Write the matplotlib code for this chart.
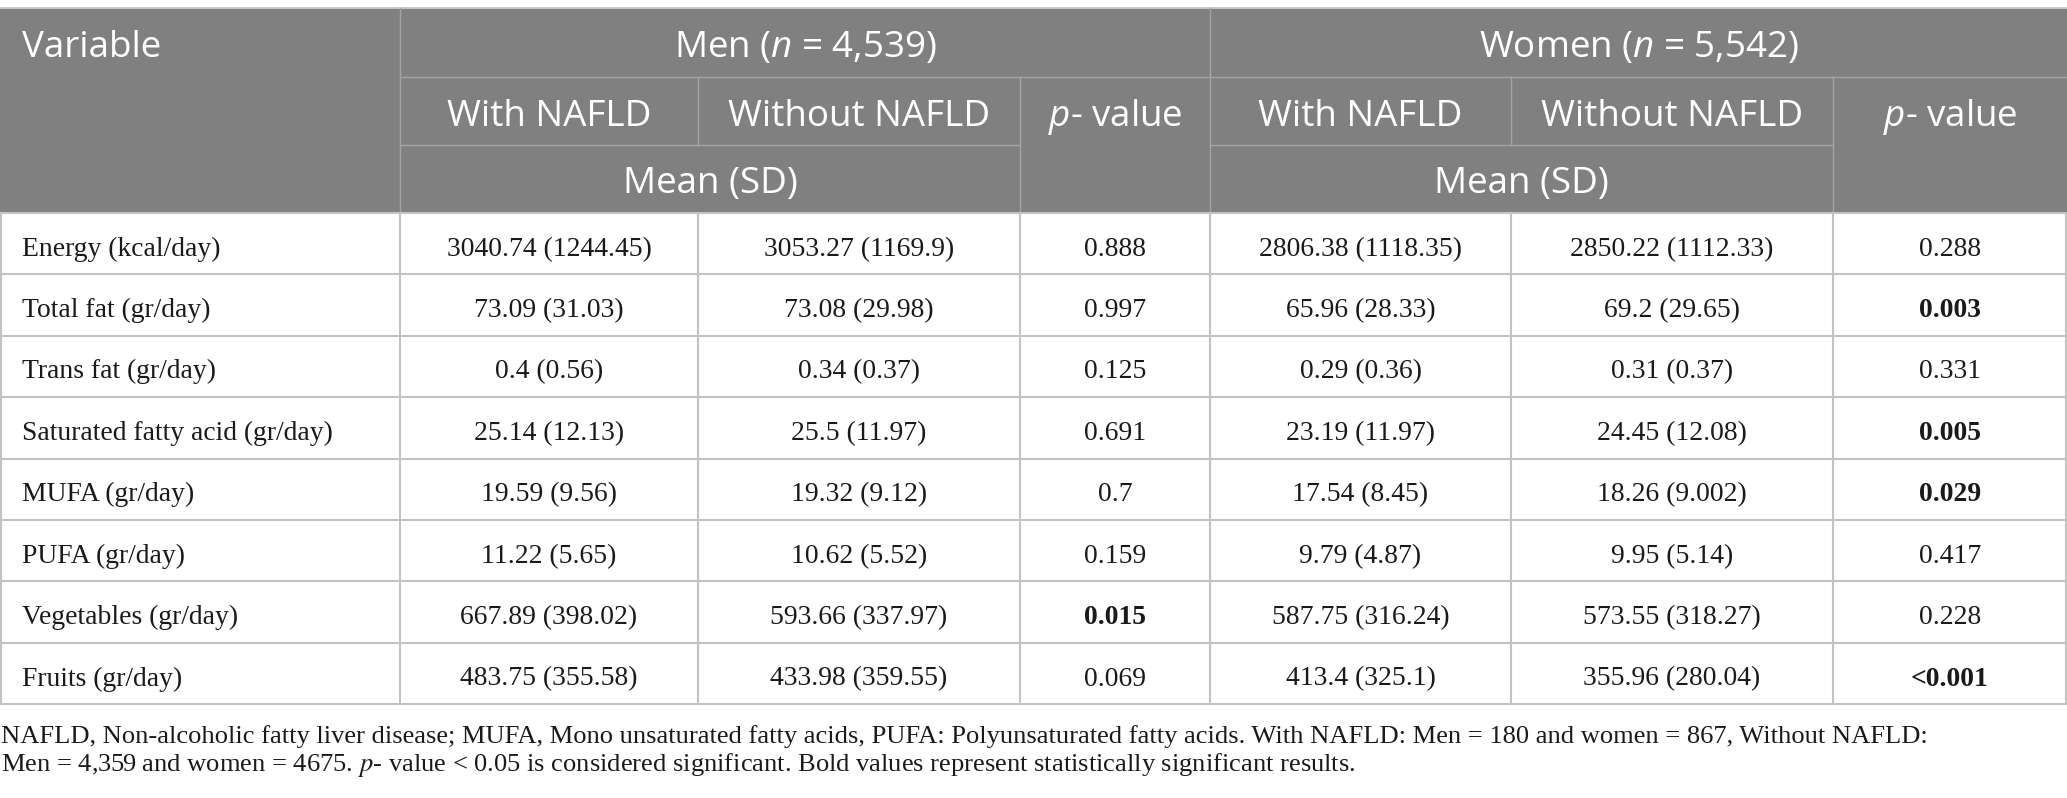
import matplotlib
matplotlib.use("Agg")
import matplotlib.pyplot as plt
from matplotlib.patches import Rectangle

# table content
variables = ["Energy (kcal/day)", "Total fat (gr/day)", "Trans fat (gr/day)",
             "Saturated fatty acid (gr/day)", "MUFA (gr/day)", "PUFA (gr/day)",
             "Vegetables (gr/day)", "Fruits (gr/day)"]
men_with_mean = [3040.74, 73.09, 0.4, 25.14, 19.59, 11.22, 667.89, 483.75]
men_with_sd = [1244.45, 31.03, 0.56, 12.13, 9.56, 5.65, 398.02, 355.58]
men_without_mean = [3053.27, 73.08, 0.34, 25.5, 19.32, 10.62, 593.66, 433.98]
men_without_sd = [1169.9, 29.98, 0.37, 11.97, 9.12, 5.52, 337.97, 359.55]
men_p = ["0.888", "0.997", "0.125", "0.691", "0.7", "0.159", "0.015", "0.069"]
women_with_mean = [2806.38, 65.96, 0.29, 23.19, 17.54, 9.79, 587.75, 413.4]
women_with_sd = [1118.35, 28.33, 0.36, 11.97, 8.45, 4.87, 316.24, 325.1]
women_without_mean = [2850.22, 69.2, 0.31, 24.45, 18.26, 9.95, 573.55, 355.96]
women_without_sd = [1112.33, 29.65, 0.37, 12.08, 9.002, 5.14, 318.27, 280.04]
women_p = ["0.288", "0.003", "0.331", "0.005", "0.029", "0.417", "0.228", "<0.001"]

footnote = ["NAFLD, Non-alcoholic fatty liver disease; MUFA, Mono unsaturated fatty acids, "
            "PUFA: Polyunsaturated fatty acids. With NAFLD: Men = 180 and women = 867, Without NAFLD:",
            "Men = 4,359 and women = 4675. $p$- value < 0.05 is considered significant. "
            "Bold values represent statistically significant results."]

W, H = 2067, 798
plt.rcParams['mathtext.fontset'] = 'custom'
plt.rcParams['mathtext.rm'] = 'Open Sans'
plt.rcParams['mathtext.it'] = 'Open Sans:italic'

fig = plt.figure(figsize=(W / 100, H / 100), dpi=100)
ax = fig.add_axes([0, 0, 1, 1])
ax.set_xlim(0, W)
ax.set_ylim(H, 0)
ax.axis('off')
renderer = fig.canvas.get_renderer()


def fit_size(s, target, **kw):
    # font size that makes string s about target pixels wide
    t = ax.text(0, 0, s, fontsize=10, **kw)
    w = t.get_window_extent(renderer).width
    t.remove()
    return 10 * target / w


# layout (pixels)
xs = [0, 400, 698, 1020, 1210, 1511, 1833, W]
top, h1, h2, hb = 8, 77, 145, 213
rh = 61.4
n = len(variables)
bottom = hb + rh * n

head_bg = '#808080'
head_line = '#a4a4a4'
body_line = '#c3c3c3'
txt = '#1a1a1a'

hsize = fit_size("With NAFLD", 205, family='Open Sans')
bsize = (fit_size("3040.74 (1244.45)", 197, family='Liberation Serif')
         + fit_size("Energy (kcal/day)", 206, family='Liberation Serif')) / 2
fsize = fit_size(footnote[0], 1928, family='Liberation Serif', math_fontfamily='stix')

hfont = dict(family='Open Sans', fontsize=hsize, color='white')
bfont = dict(family='Liberation Serif', fontsize=bsize, color=txt)

ax.add_patch(Rectangle((0, top), W, hb - top, facecolor=head_bg, edgecolor='none'))
ax.plot([0, W], [top, top], color='#c8c8c8', lw=1.4)

# header grid
ax.plot([xs[1], W], [h1, h1], color=head_line, lw=1.0)
ax.plot([xs[1], xs[3]], [h2, h2], color=head_line, lw=1.0)
ax.plot([xs[4], xs[6]], [h2, h2], color=head_line, lw=1.0)
for x in (xs[1], xs[4]):
    ax.plot([x, x], [top, hb], color=head_line, lw=1.0)
for x in (xs[3], xs[6]):
    ax.plot([x, x], [h1, hb], color=head_line, lw=1.0)
for x in (xs[2], xs[5]):
    ax.plot([x, x], [h1, h2], color=head_line, lw=1.0)

# header text
yb1, yb2, yb3 = 57, 126, 193
ax.text(22, yb1, "Variable", ha='left', va='baseline', **hfont)
ax.text((xs[1] + xs[4]) / 2, yb1, "Men ($n$ = 4,539)", ha='center', va='baseline', **hfont)
ax.text((xs[4] + xs[7]) / 2, yb1, "Women ($n$ = 5,542)", ha='center', va='baseline', **hfont)
for a in (1, 4):
    ax.text((xs[a] + xs[a + 1]) / 2, yb2, "With NAFLD", ha='center', va='baseline', **hfont)
    ax.text((xs[a + 1] + xs[a + 2]) / 2, yb2, "Without NAFLD", ha='center', va='baseline', **hfont)
    ax.text((xs[a] + xs[a + 2]) / 2, yb3, "Mean (SD)", ha='center', va='baseline', **hfont)
    ax.text((xs[a + 2] + xs[a + 3]) / 2, yb2, "$p$- value", ha='center', va='baseline', **hfont)

# body grid
for i in range(n + 1):
    y = hb + rh * i
    ax.plot([0, W], [y, y], color=body_line, lw=1.5)
for x in xs:
    xx = min(max(x, 1), W - 1)
    ax.plot([xx, xx], [hb, bottom], color=body_line, lw=1.5)


def cell(m, s):
    return f"{m:g} ({s:g})"


for i in range(n):
    yb = hb + rh * (i + 0.5) + 12
    ax.text(22, yb, variables[i], ha='left', va='baseline', **bfont)
    row = [cell(men_with_mean[i], men_with_sd[i]), cell(men_without_mean[i], men_without_sd[i]),
           men_p[i], cell(women_with_mean[i], women_with_sd[i]),
           cell(women_without_mean[i], women_without_sd[i]), women_p[i]]
    for j, val in enumerate(row):
        weight = 'normal'
        if j in (2, 5) and float(val.lstrip('<')) < 0.05:
            weight = 'bold'
        ax.text((xs[j + 1] + xs[j + 2]) / 2, yb, val, ha='center', va='baseline',
                fontweight=weight, **bfont)

# footnote
for k, line in enumerate(footnote):
    ax.text(1, 743 + 28 * k, line, ha='left', va='baseline', family='Liberation Serif',
            fontsize=fsize, color=txt, math_fontfamily='stix')

fig.savefig("out.png", dpi=100)
